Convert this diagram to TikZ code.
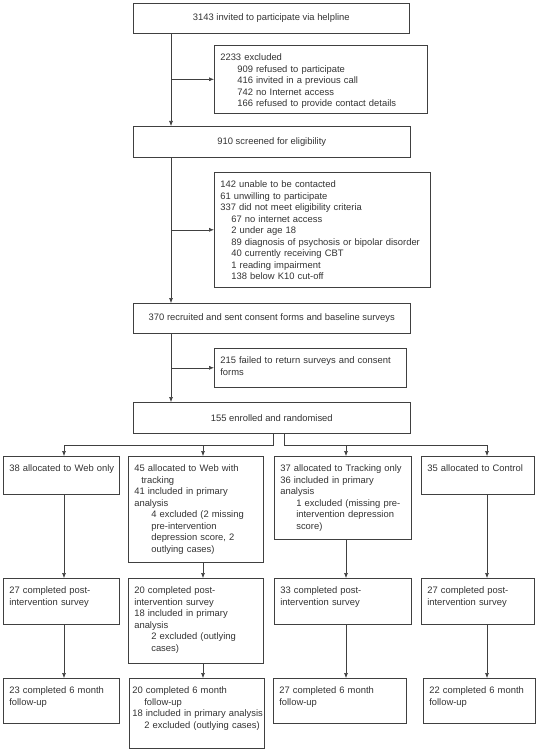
\documentclass[tikz,border=0pt]{standalone}
\usepackage{fontspec}
\setmainfont{Liberation Sans}
\usetikzlibrary{arrows.meta}
\newcommand{\indby}[1]{\hspace*{#1pt}}
\newcommand{\boxlines}[1]{\begin{tabular}[t]{@{}l@{}}#1\end{tabular}}
\tikzset{
  box/.style 2 args={draw=black!75,anchor=north west,inner xsep=6pt,inner ysep=0pt,
    text width=#1pt-12pt,minimum width=#1pt,text height=15.5pt,text depth=#2pt-15.5pt},
  cbox/.style 2 args={draw=black!75,anchor=north west,inner sep=0pt,minimum width=#1pt,minimum height=#2pt},
  arr/.style={draw=black!75,-{Latex[length=5pt,width=4pt]}},
  every node/.style={font=\fontsize{9.4}{11.5}\selectfont,text=black!80}
}

\begin{document}
\begin{tikzpicture}[x=1pt,y=-1pt,semithick]
\useasboundingbox (0,0) rectangle (539,751);
\coordinate (trunk) at (171,0);
\coordinate (sl) at (273,445);
\coordinate (sr) at (284,445);
\coordinate (xa) at (64,0);
\coordinate (xb) at (203,0);
\coordinate (xc) at (346,0);
\coordinate (xd) at (487,0);
% recruitment
\node[cbox={276}{30}] (invite) at (133,3) {3143 invited to participate via helpline};
\node[box={213}{68}] (excl1) at (214,45) {\boxlines{2233 excluded\\
  \indby{17}909 refused to participate\\
  \indby{17}416 invited in a previous call\\
  \indby{17}742 no Internet access\\
  \indby{17}166 refused to provide contact details}};
\node[cbox={277}{31}] (screen) at (133,126) {910 screened for eligibility};
\node[box={216}{115}] (excl2) at (214,172) {\boxlines{142 unable to be contacted\\
  61 unwilling to participate\\
  337 did not meet eligibility criteria\\
  \indby{11}67 no internet access\\
  \indby{11}2 under age 18\\
  \indby{11}89 diagnosis of psychosis or bipolar disorder\\
  \indby{11}40 currently receiving CBT\\
  \indby{11}1 reading impairment\\
  \indby{11}138 below K10 cut-off}};
\node[cbox={277}{30}] (recruit) at (133,303) {370 recruited and sent consent forms and baseline surveys};
\node[box={192}{39}] (excl3) at (214,348) {\boxlines{215 failed to return surveys and consent\\forms}};
\node[cbox={277}{31}] (enrol) at (133,402) {155 enrolled and randomised};
% allocation
\node[box={116}{38}] (A1) at (3,456) {\boxlines{38 allocated to Web only}};
\node[box={135}{106}] (B1) at (128,456) {\boxlines{45 allocated to Web with\\
  \indby{7}tracking\\
  41 included in primary\\
  analysis\\
  \indby{17}4 excluded (2 missing\\
  \indby{17}pre-intervention\\
  \indby{17}depression score, 2\\
  \indby{17}outlying cases)}};
\node[box={137}{83}] (C1) at (274,456) {\boxlines{37 allocated to Tracking only\\
  36 included in primary\\
  analysis\\
  \indby{16}1 excluded (missing pre-\\
  \indby{16}intervention depression\\
  \indby{16}score)}};
\node[box={113}{38}] (D1) at (421,456) {\boxlines{35 allocated to Control}};
% post-intervention
\node[box={116}{46}] (A2) at (3,578) {\boxlines{27 completed post-\\intervention survey}};
\node[box={135}{85}] (B2) at (128,578) {\boxlines{20 completed post-\\
  intervention survey\\
  18 included in primary\\
  analysis\\
  \indby{17}2 excluded (outlying\\
  \indby{17}cases)}};
\node[box={137}{46}] (C2) at (274,578) {\boxlines{33 completed post-\\intervention survey}};
\node[box={113}{46}] (D2) at (421,578) {\boxlines{27 completed post-\\intervention survey}};
% follow-up
\node[box={116}{45}] (A3) at (3,678) {\boxlines{23 completed 6 month\\follow-up}};
\node[box={135}{70},inner xsep=3pt,text width=129pt] (B3) at (129,678) {\boxlines{20 completed 6 month\\
  \indby{12}follow-up\\
  18 included in primary analysis\\
  \indby{12}2 excluded (outlying cases)}};
\node[box={133}{45}] (C3) at (273,678) {\boxlines{27 completed 6 month\\follow-up}};
\node[box={112}{45}] (D3) at (423,678) {\boxlines{22 completed 6 month\\follow-up}};
% connectors
\draw[arr] (invite.south -| trunk) -- (screen.north -| trunk);
\draw[arr] (screen.south -| trunk) -- (recruit.north -| trunk);
\draw[arr] (recruit.south -| trunk) -- (enrol.north -| trunk);
\draw[arr] (excl1.west -| trunk) -- (excl1.west);
\draw[arr] (excl2.west -| trunk) -- (excl2.west);
\draw[arr] (excl3.west -| trunk) -- (excl3.west);
\draw[arr] (enrol.south -| sl) -- (sl) -| (A1.north -| xa);
\draw[arr] (sl -| xb) -- (B1.north -| xb);
\draw[arr] (enrol.south -| sr) -- (sr) -| (D1.north -| xd);
\draw[arr] (sr -| xc) -- (C1.north -| xc);
\foreach \c/\x in {A/xa,B/xb,C/xc,D/xd}{
  \draw[arr] (\c1.south -| \x) -- (\c2.north -| \x);
  \draw[arr] (\c2.south -| \x) -- (\c3.north -| \x);
}
\end{tikzpicture}
\end{document}
